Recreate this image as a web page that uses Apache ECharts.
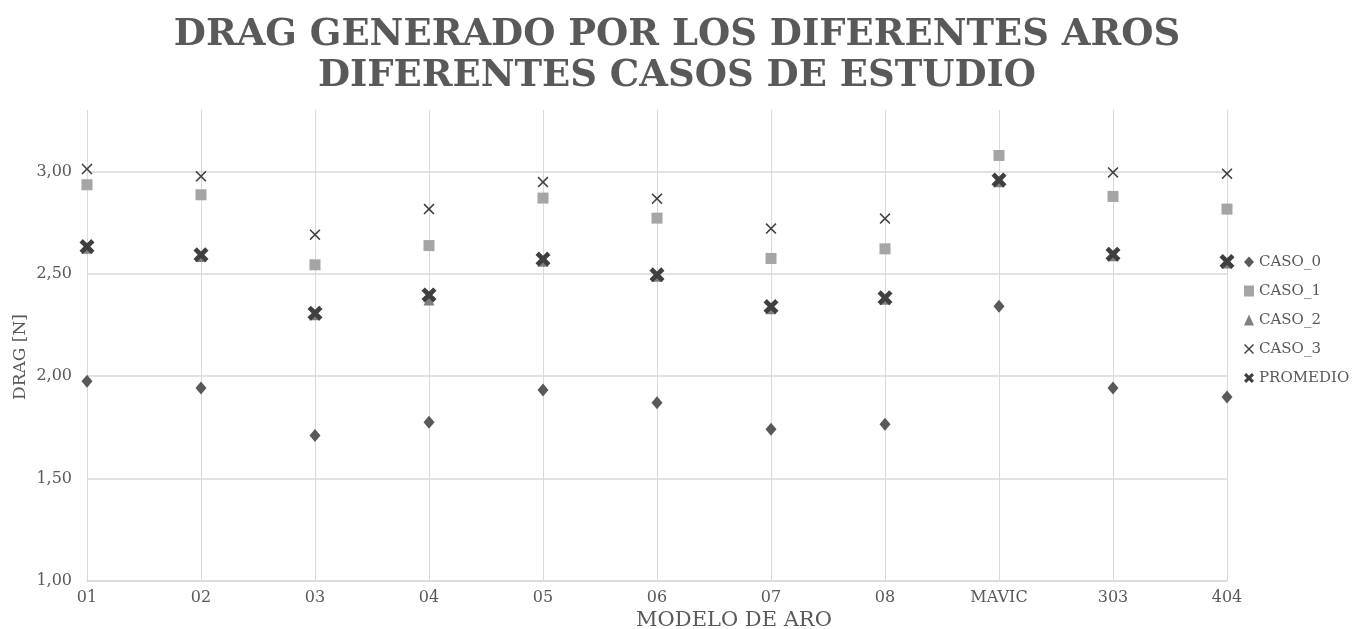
<!DOCTYPE html>
<html>
<head>
<meta charset="utf-8">
<title>Drag generado por los diferentes aros</title>
<script src="https://cdn.jsdelivr.net/npm/echarts@6/dist/echarts.min.js"></script>
<style>
  html, body { margin: 0; padding: 0; background: #ffffff; }
  #chart { width: 1354px; height: 629px; }
</style>
</head>
<body>
<div id="chart"></div>
<script>
// Rim models along the horizontal axis
const categories = ['01', '02', '03', '04', '05', '06', '07', '08', 'MAVIC', '303', '404'];

// Drag [N] for each study case
const caso0 = [1.975, 1.943, 1.710, 1.775, 1.933, 1.871, 1.741, 1.765, 2.342, 1.943, 1.899];
const caso1 = [2.935, 2.886, 2.544, 2.638, 2.870, 2.772, 2.575, 2.622, 3.078, 2.878, 2.816];
const caso2 = [2.625, 2.585, 2.300, 2.372, 2.562, 2.488, 2.330, 2.376, 2.950, 2.588, 2.553];
const caso3 = [3.012, 2.976, 2.691, 2.816, 2.948, 2.867, 2.721, 2.770, 2.965, 2.995, 2.989];
const promedio = [2.633, 2.593, 2.308, 2.397, 2.572, 2.495, 2.340, 2.383, 2.958, 2.596, 2.560];

// Vertical axis ticks
const yMin = 1.0;
const yMax = 3.3;
const yStep = 0.5;

const FONT = 'DejaVu Serif';
const TEXT = '#595959';
const GRID = '#d9d9d9';

// Marker outlines
const thinX = 'path://M0,1 L1,0 L5,4 L9,0 L10,1 L6,5 L10,9 L9,10 L5,6 L1,10 L0,9 L4,5 Z';
const boldX = 'path://M0,2.2 L2.2,0 L5,2.8 L7.8,0 L10,2.2 L7.2,5 L10,7.8 L7.8,10 L5,7.2 L2.2,10 L0,7.8 L2.8,5 Z';

const chart = echarts.init(document.getElementById('chart'), null, { renderer: 'canvas' });

function scatter(name, data, symbol, size, color) {
  return {
    name: name,
    type: 'scatter',
    data: data,
    symbol: symbol,
    symbolSize: size,
    itemStyle: { color: color, opacity: 1 },
    emphasis: { disabled: true }
  };
}

chart.setOption({
  animation: false,
  backgroundColor: '#ffffff',
  title: {
    text: 'DRAG GENERADO POR LOS DIFERENTES AROS\nDIFERENTES CASOS DE ESTUDIO',
    left: 'center',
    top: 10,
    textStyle: {
      fontFamily: FONT,
      fontWeight: 'bold',
      fontSize: 37,
      lineHeight: 41,
      color: TEXT
    }
  },
  legend: {
    orient: 'vertical',
    left: 1239,
    top: 248,
    itemWidth: 10,
    itemHeight: 11,
    itemGap: 11,
    textStyle: { fontFamily: FONT, fontSize: 15, color: TEXT, lineHeight: 18 },
    data: ['CASO_0', 'CASO_1', 'CASO_2', 'CASO_3', 'PROMEDIO']
  },
  grid: { left: 87, right: 127, top: 110, bottom: 48, containLabel: false },
  xAxis: {
    type: 'category',
    data: categories,
    boundaryGap: false,
    axisLine: { show: true, lineStyle: { color: GRID, width: 1.5 } },
    axisTick: { show: false },
    axisLabel: { fontFamily: FONT, fontSize: 16, color: TEXT, margin: 9 },
    splitLine: { show: true, lineStyle: { color: GRID, width: 1 } }
  },
  yAxis: {
    type: 'value',
    min: yMin,
    max: yMax,
    interval: yStep,
    axisLine: { show: false },
    axisTick: { show: false },
    axisLabel: {
      fontFamily: FONT,
      fontSize: 16,
      color: TEXT,
      margin: 15,
      showMaxLabel: false,
      formatter: v => v.toFixed(2).replace('.', ',')
    },
    splitLine: { show: true, showMaxLine: false, lineStyle: { color: GRID, width: 1.5 } }
  },
  graphic: [
    {
      type: 'text',
      x: 21,
      y: 357,
      rotation: Math.PI / 2,
      style: {
        text: 'DRAG [N]',
        font: '17px "DejaVu Serif"',
        fill: TEXT,
        textAlign: 'center',
        textVerticalAlign: 'middle'
      }
    },
    {
      type: 'text',
      x: 734,
      y: 621,
      style: {
        text: 'MODELO DE ARO',
        font: '21px "DejaVu Serif"',
        fill: TEXT,
        textAlign: 'center',
        textVerticalAlign: 'middle'
      }
    }
  ],
  series: [
    scatter('CASO_0', caso0, 'diamond', [11, 13], '#595959'),
    scatter('CASO_1', caso1, 'rect', 11, '#a5a5a5'),
    scatter('CASO_2', caso2, 'triangle', 11, '#7f7f7f'),
    scatter('CASO_3', caso3, thinX, 11, '#404040'),
    scatter('PROMEDIO', promedio, boldX, 15, '#3f3f3f')
  ]
});
</script>
</body>
</html>
